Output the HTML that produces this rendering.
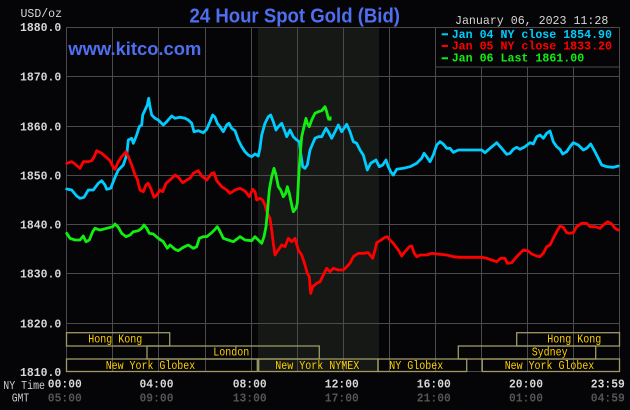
<!DOCTYPE html>
<html><head><meta charset="utf-8"><style>
html,body{margin:0;padding:0;background:#050507;width:630px;height:410px;overflow:hidden}
svg{display:block}
.m{font-family:"Liberation Mono",monospace}
.s{font-family:"Liberation Sans",sans-serif;font-weight:bold}
</style></head><body>
<svg width="630" height="410" viewBox="0 0 630 410" xmlns="http://www.w3.org/2000/svg">
<rect x="0" y="0" width="630" height="410" fill="#050507"/>
<rect x="258" y="27" width="121" height="345" fill="#151815"/>
<g stroke="#4a4a4a" stroke-width="1" fill="none">
<path d="M66.5 27.5H619.5M66.5 76.5H619.5M66.5 126.5H619.5M66.5 175.5H619.5M66.5 224.5H619.5M66.5 273.5H619.5M66.5 323.5H619.5M66.5 371.5H619.5"/>
<path d="M66.5 27.5V371.5M112.5 27.5V371.5M158.5 27.5V371.5M205.5 27.5V371.5M251.5 27.5V371.5M297.5 27.5V371.5M343.5 27.5V371.5M389.5 27.5V371.5M435.5 27.5V371.5M481.5 27.5V371.5M527.5 27.5V371.5M573.5 27.5V371.5M619.5 27.5V371.5"/>
</g>
<g stroke="#9d9a66" stroke-width="1.3" fill="none">
<rect x="66.5" y="332.7" width="103.2" height="13.3"/>
<rect x="516.7" y="332.7" width="102.8" height="13.3"/>
<rect x="147" y="346" width="172.3" height="13"/>
<rect x="458.3" y="346" width="137.4" height="13"/>
<rect x="66.5" y="359" width="190.8" height="12.5"/>
<rect x="258.7" y="359" width="119.3" height="12.5"/>
<rect x="378" y="359" width="88.7" height="12.5"/>
<rect x="482.3" y="359" width="137.2" height="12.5"/>
</g>
<g class="m" fill="#ffd000" font-size="11.5">
<text x="88.3" y="342.5" textLength="54" lengthAdjust="spacingAndGlyphs">Hong Kong</text>
<text x="547.3" y="342.5" textLength="54" lengthAdjust="spacingAndGlyphs">Hong Kong</text>
<text x="213.3" y="355.7" textLength="36" lengthAdjust="spacingAndGlyphs">London</text>
<text x="531.7" y="355.7" textLength="36" lengthAdjust="spacingAndGlyphs">Sydney</text>
<text x="105.7" y="369" textLength="89.5" lengthAdjust="spacingAndGlyphs">New York Globex</text>
<text x="275.3" y="369" textLength="84" lengthAdjust="spacingAndGlyphs">New York NYMEX</text>
<text x="389.3" y="369" textLength="54" lengthAdjust="spacingAndGlyphs">NY Globex</text>
<text x="504.7" y="369" textLength="89.6" lengthAdjust="spacingAndGlyphs">New York Globex</text>
</g>
<g fill="none" stroke-width="2.8" stroke-linejoin="round" stroke-linecap="round">
<polyline stroke="#00ccff" points="66.7,189 71.7,190 76.7,196 80,198.3 84,197.3 88.3,190 93.3,190 98.3,183.3 101.7,180.7 105,185 106.7,189.3 110.7,188.3 115,177.3 118.3,170 123.3,165 126.7,155 128.3,140 131.7,138.3 133.3,143.3 136.7,135 139.3,126.7 141.7,125 142.7,115 145,110 147.3,105 148.7,98.3 150,106.7 151.7,115 155,118.3 158.3,120 163.3,125 166.7,121.7 171.7,116 175,118.3 180,117.3 185,118.3 188.3,120 191.7,123.3 194,131.7 198.3,130.7 203.3,132.7 206.7,129.3 210,121.7 212.7,115 215,117.3 217.3,123.3 220,126.7 223.3,131.7 226.7,125 229,123.3 231.7,128.3 235,130.7 238.3,140 241.7,146.7 245,151.7 248.3,155 251.7,156.7 255,154 258.3,156 260,148 261.7,135 265,123.3 268.3,116.7 270.7,115 273.3,121.7 276,130 278.3,126.7 281.7,123.3 285,131.7 286.7,136.7 290,130 293.3,136.7 296.7,140 299.3,141.7 300.7,153.3 302.7,166.7 305,168.3 307.3,165 310,150 315,138.3 318.3,136.7 321.7,136.7 326,128.3 328.3,131.7 331.7,138.3 335,131.7 338.3,125 341.7,131.7 346.7,124.3 350,131.7 353.3,141.7 356.7,143.3 360,150 363.3,155 366,165 367.3,170 370.7,163.3 376,160 379.3,166.7 382.7,165 386,160 388.3,166.7 390.7,171.7 393.3,175 396.7,169.3 403.3,168.3 410,166.7 416.7,163.3 421.7,158.3 424,153.3 426.7,156.7 430,161.7 433.3,155 436.7,145 440,141.7 443.3,144 446.7,148.3 450,148.3 453.3,152.3 458.3,150 470,150 481.7,150 485,152.7 490,148.3 496.7,142.7 501.7,148.3 506.7,154.3 510,153.3 513.3,149.3 516.7,147.3 520,149.3 525,146.7 530,142.7 533.3,144 536.7,136.7 540,135 543.3,138.3 546.7,133.3 550,131 553.3,141.7 556.7,146.7 560,149.3 562.7,154 566.7,151.7 570,146.7 573.3,142.7 578.3,145 583.3,150 586.7,148.3 590.7,144 595,151.7 598.3,158.3 601.7,165 606.7,166.7 613.3,167.3 618.3,166"/>
<polyline stroke="#ff0000" points="66.7,163.3 71.7,161.7 75,164 80,168.3 83.3,161.7 88.3,161.7 91.7,160.7 94.3,156.7 96.7,150.7 101.7,153.3 106.7,157.7 110,160.7 113.3,167.3 115,169.3 118.3,161.7 121.7,156.7 126,151.7 128.3,156.7 131.7,165 135,175 137.3,179.3 140,190 143.3,191.7 146,185 148.3,183.3 150.7,188.3 154,197.3 156.7,195 160,190 162.7,191.7 166,183.3 170,180 175,175 178.3,177.3 182.7,182.7 186.7,180 190,178.3 193.3,173.3 198.3,170.7 201.7,176 206.7,180 211.7,173.3 214,172.7 216.7,180.7 221.7,186.7 226.7,190 230,193.3 235,190 240,188.3 245,191 249.3,196.7 252.7,189.3 255,191.7 256.7,200 260,198.3 262.7,200 265,205 267.3,213.3 270,218.3 271.7,230 273.3,243.3 275,255 278.3,250 281.7,245 285,246.7 288.3,238.3 291.7,241.7 295,238.3 298.3,250 301.7,255 305,265 307.3,273.3 309.3,276.7 310.7,293.3 312.7,286.7 316.7,283.3 320,281.7 323.3,275 326.7,268.3 330,271.7 333.3,268.3 338.3,270 343.3,270 346.7,266.7 350,263.3 353.3,256.7 358.3,253.3 363.3,253.3 368.3,252.7 372.7,258.3 375,250 376.7,242.7 380,240.7 385,237.3 387.3,236.7 390,240 393.3,243.3 398.3,250 401.7,256 405,251.7 409.3,246.7 411.7,246 414.3,253.3 416.7,256.7 420,255 426.7,255 431.7,253.3 436.7,254 446.7,255 453.3,256.7 460,257.3 481.7,257.3 486.7,258.3 491.7,260 496.7,261.7 500.7,258.3 505,258.3 507.3,263.3 511.7,262.7 516.7,256.7 523.3,250 528.3,251 531.7,254 536.7,256 540,256.7 543.3,253.3 546.7,246.7 550,245 553.3,238.3 556.7,231.7 560,226 563.3,227.3 566.7,232.7 570,233.3 573.3,232.7 576.7,226.7 581.7,223.3 586.7,223.3 590,226.7 595,226.7 600,228.3 603.3,225 607.7,221.7 611.7,224 615,228.3 618.3,230"/>
<polyline stroke="#11ee11" points="66.7,233.3 70,238.3 75,240 80,240 83.3,236 86,241.7 89.3,240 92.7,231.7 95,228.3 100,230 106.7,228.3 112.7,226.7 115,224 118.3,227.3 121.7,233.3 126,236.7 130,235 133.3,231.7 138.3,230.7 141.7,228.3 144,225 146.7,228.3 149.3,233.3 153.3,234 158.3,238.3 163.3,241.7 167.3,248.3 170,245 175,249.3 178.3,250.7 183.3,247.3 188.3,245 193.3,248.3 196.7,246.7 199.3,238.3 203.3,236.7 206.7,236.7 211.7,232.7 215,229.3 217.3,226.7 219.3,230 223.3,238.3 228.3,240 233.3,241.7 240,236.7 245,240 251.7,240.7 255,236.7 258.3,240 261.7,243.3 264,236.7 266,226.7 267.3,213.3 269.3,190 271.7,176.7 274,168.3 276,175 278.3,186.7 280.7,190 283.3,196.7 285.7,193.3 287.3,186.7 289.3,193.3 291.7,205 293.3,211.7 296,208.3 297.3,203.3 298.7,176.7 300,156.7 301.7,136.7 304,126.7 306,118.3 307.3,123.3 309.3,126.7 311.7,120 315,113.3 318.3,111.7 321.7,110.7 325,106.7 326.7,111.7 328.3,118.3 330,119.3"/>
</g>
<rect x="327.5" y="116.5" width="4" height="4" fill="#11ee11"/>
<rect x="435.5" y="27.5" width="184" height="39.5" fill="#050507" stroke="#4a4a4a" stroke-width="1"/>
<rect x="441.7" y="33.3" width="6.3" height="2" fill="#00ccff"/>
<rect x="441.7" y="45" width="6.3" height="2" fill="#ff0000"/>
<rect x="441.7" y="57.3" width="6.3" height="2" fill="#11ee11"/>
<g class="m" font-size="12" font-weight="bold">
<text x="451.7" y="37.8" fill="#00ccff" textLength="160.3" lengthAdjust="spacingAndGlyphs">Jan 04 NY close 1854.90</text>
<text x="451.7" y="49.5" fill="#ff0000" textLength="160.3" lengthAdjust="spacingAndGlyphs">Jan 05 NY close 1833.20</text>
<text x="451.7" y="61.7" fill="#11ee11" textLength="132.5" lengthAdjust="spacingAndGlyphs">Jan 06 Last 1861.00</text>
</g>
<text class="s" x="189.5" y="22.5" font-size="20.5" fill="#4f6ff0" textLength="210.5" lengthAdjust="spacingAndGlyphs">24 Hour Spot Gold (Bid)</text>
<text class="s" x="68.3" y="55" font-size="18.5" fill="#4f6ff0" textLength="133" lengthAdjust="spacingAndGlyphs">www.kitco.com</text>
<text class="m" x="455" y="24" font-size="12" fill="#d8d8d8" textLength="153.3" lengthAdjust="spacingAndGlyphs">January 06, 2023 11:28</text>
<g class="m" font-size="12" font-weight="bold" fill="#d8d8d8">
<text x="20.5" y="17" font-weight="normal" textLength="41.5" lengthAdjust="spacingAndGlyphs">USD/oz</text>
<text x="20" y="31.2" textLength="41.3" lengthAdjust="spacingAndGlyphs">1880.0</text>
<text x="20" y="80.5" textLength="41.3" lengthAdjust="spacingAndGlyphs">1870.0</text>
<text x="20" y="130.5" textLength="41.3" lengthAdjust="spacingAndGlyphs">1860.0</text>
<text x="20" y="179.5" textLength="41.3" lengthAdjust="spacingAndGlyphs">1850.0</text>
<text x="20" y="228.5" textLength="41.3" lengthAdjust="spacingAndGlyphs">1840.0</text>
<text x="20" y="277.5" textLength="41.3" lengthAdjust="spacingAndGlyphs">1830.0</text>
<text x="20" y="327.5" textLength="41.3" lengthAdjust="spacingAndGlyphs">1820.0</text>
<text x="20" y="375.8" textLength="41.3" lengthAdjust="spacingAndGlyphs">1810.0</text>
</g>
<g class="m" font-size="12">
<text x="3.3" y="389" fill="#cccccc" textLength="41.7" lengthAdjust="spacingAndGlyphs">NY Time</text>
<text x="11.7" y="401.5" fill="#cccccc" textLength="17.5" lengthAdjust="spacingAndGlyphs">GMT</text>
</g>
<g class="m" font-size="12" font-weight="bold" fill="#d8d8d8" text-anchor="middle">
<text x="64.8" y="387.5" textLength="34" lengthAdjust="spacingAndGlyphs">00:00</text>
<text x="156.5" y="387.5" textLength="34" lengthAdjust="spacingAndGlyphs">04:00</text>
<text x="249.7" y="387.5" textLength="34" lengthAdjust="spacingAndGlyphs">08:00</text>
<text x="341.8" y="387.5" textLength="34" lengthAdjust="spacingAndGlyphs">12:00</text>
<text x="433.8" y="387.5" textLength="34" lengthAdjust="spacingAndGlyphs">16:00</text>
<text x="526" y="387.5" textLength="34" lengthAdjust="spacingAndGlyphs">20:00</text>
<text x="607.8" y="387.5" textLength="34" lengthAdjust="spacingAndGlyphs">23:59</text>
</g>
<g class="m" font-size="12" font-weight="bold" fill="#555555" text-anchor="middle">
<text x="64.8" y="401.5" textLength="34" lengthAdjust="spacingAndGlyphs">05:00</text>
<text x="156.5" y="401.5" textLength="34" lengthAdjust="spacingAndGlyphs">09:00</text>
<text x="249.7" y="401.5" textLength="34" lengthAdjust="spacingAndGlyphs">13:00</text>
<text x="341.8" y="401.5" textLength="34" lengthAdjust="spacingAndGlyphs">17:00</text>
<text x="433.8" y="401.5" textLength="34" lengthAdjust="spacingAndGlyphs">21:00</text>
<text x="526" y="401.5" textLength="34" lengthAdjust="spacingAndGlyphs">01:00</text>
<text x="607.8" y="401.5" textLength="34" lengthAdjust="spacingAndGlyphs">04:59</text>
</g>
</svg>
</body></html>
